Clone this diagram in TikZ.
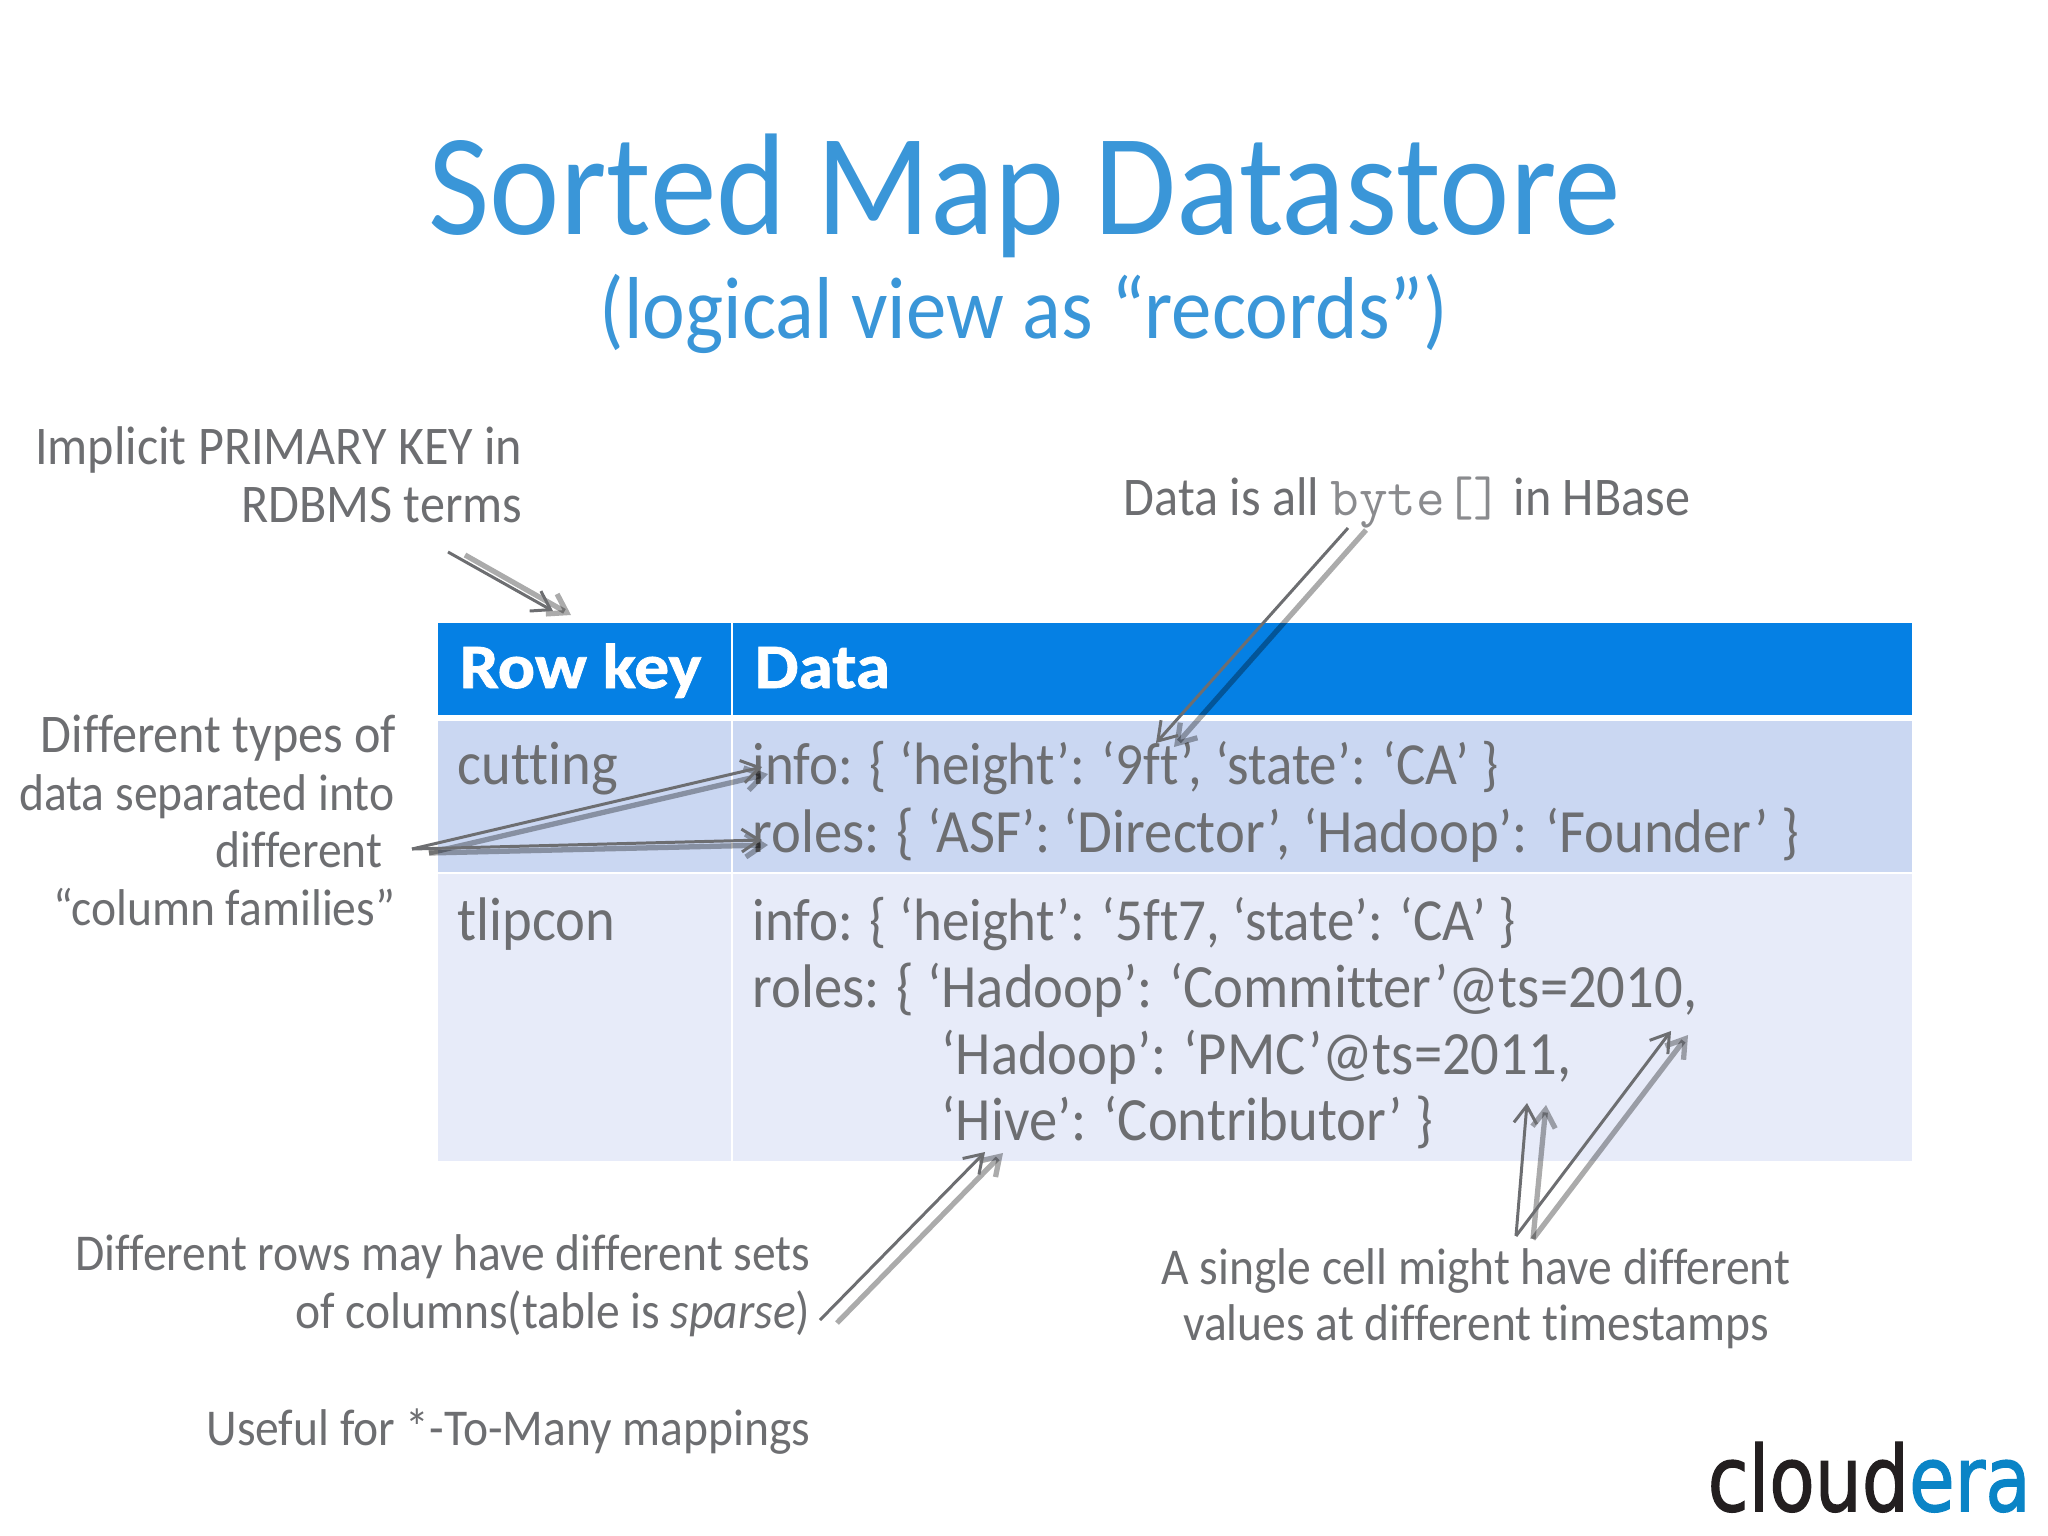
\documentclass[tikz,border=0pt]{standalone}
\usepackage{xcolor}
\usepackage{graphicx}
\usepackage{fontspec}
\setmainfont{Carlito}[FakeStretch=0.92,Ligatures=NoCommon]
\newfontfamily\headfont{Carlito}[FakeStretch=1.1,Ligatures=NoCommon,BoldFeatures={FakeBold=1.2}]
\newfontfamily\logofont{DejaVu Sans}[FakeBold=1.6]
\usetikzlibrary{positioning,arrows.meta}
\definecolor{titleblue}{HTML}{3A96D8}
\definecolor{headblue}{HTML}{0580E4}
\definecolor{cellA}{HTML}{CAD7F2}
\definecolor{cellB}{HTML}{E7EBF9}
\definecolor{inkgray}{HTML}{6D6E71}
\definecolor{logoblue}{HTML}{0A84C6}
\definecolor{logoblack}{HTML}{231F20}

\tikzset{
  headcell/.style={fill=headblue, minimum height=0.92cm, inner sep=0pt, anchor=north west},
  rowcell/.style={inner sep=0pt, anchor=north west},
  headtext/.style={text=white, inner sep=0pt, anchor=base west, font=\headfont\fontsize{18}{20}\selectfont\bfseries},
  celltext/.style={text=inkgray, inner sep=0pt, anchor=base west, align=left, font=\fontsize{17.5}{19}\selectfont},
  infotext/.style={celltext, font=\fontsize{17}{19}\selectfont},
  note/.style={text=inkgray, inner sep=0pt, font=\fontsize{14.7}{16.3}\selectfont},
  widenote/.style={note, font=\fontsize{15.5}{16.3}\selectfont},
  callout/.style={draw=inkgray, line width=0.85pt, -{Straight Barb[length=5pt,width=6.5pt]}},
  ghost/.style={draw=black, opacity=0.33, line width=1.5pt, -{Straight Barb[length=5pt,width=6.5pt]}}
}

\begin{document}
\begin{tikzpicture}[x=0.01cm, y=-0.01cm]
  \useasboundingbox (0,0) rectangle (2048,1536);

  % title
  \node (title) [text=titleblue, inner sep=0pt, anchor=base, font=\fontsize{41.2}{48}\selectfont] at (1025,234) {Sorted Map Datastore};
  \node (subtitle) [text=titleblue, inner sep=0pt, anchor=base, font=\fontsize{25}{32}\selectfont] at (1024,338) {(logical view as “records”)};

  % table
  \node (rowHead) [headcell, minimum width=2.93cm] at (437,622) {};
  \node (dataHead) [headcell, minimum width=11.79cm] at (732,622) {};
  \node (rowCutting) [rowcell, fill=cellA, minimum width=2.93cm, minimum height=1.51cm] at (437,720) {};
  \node (dataCutting) [rowcell, fill=cellA, minimum width=11.79cm, minimum height=1.51cm] at (732,720) {};
  \node (rowTlipcon) [rowcell, fill=cellB, minimum width=2.93cm, minimum height=2.87cm] at (437,873) {};
  \node (dataTlipcon) [rowcell, fill=cellB, minimum width=11.79cm, minimum height=2.87cm] at (732,873) {};

  \node (rowHeadText) [headtext] at (459,688) {Row key};
  \node (dataHeadText) [headtext] at (754,688) {Data};
  \node (cuttingText) [celltext] at (457,784) {cutting};
  \node (tlipconText) [celltext] at (457,940) {tlipcon};
  \node (infoA) [infotext] at (752,784) {info: \{ ‘height’: ‘9ft’, ‘state’: ‘CA’ \}};
  \node (rolesA) [celltext] at (752,852) {roles: \{ ‘ASF’: ‘Director’, ‘Hadoop’: ‘Founder’ \}};
  \node (infoB) [infotext] at (752,940) {info: \{ ‘height’: ‘5ft7, ‘state’: ‘CA’ \}};
  \node (rolesB) [celltext] at (752,1007) {roles: \{ ‘Hadoop’: ‘Committer’@ts=2010,};
  \node (rolesC) [celltext] at (941,1074) {‘Hadoop’: ‘PMC’@ts=2011,};
  \node (rolesD) [celltext] at (941,1140) {‘Hive’: ‘Contributor’ \}};

  % notes
  \node (pkNoteA) [widenote, anchor=base east] at (523,464) {Implicit PRIMARY KEY in};
  \node (pkNoteB) [widenote, anchor=base east] at (523,522) {RDBMS terms};
  \node (famNoteA) [widenote, anchor=base east] at (397,752) {Different types of};
  \node (famNoteB) [note, anchor=base east] at (395,810) {data separated into};
  \node (famNoteC) [note, anchor=base east] at (383,867) {different};
  \node (famNoteD) [note, anchor=base east] at (396,925) {“column families”};
  \node (byteNote) [widenote, anchor=base] at (1407,515) {Data is all {\color{inkgray!80}\ttfamily\fontsize{15.8}{16}\selectfont byte[]} in HBase};
  \node (sparseNoteA) [note, anchor=base east] at (811,1270) {Different rows may have different sets};
  \node (sparseNoteB) [note, anchor=base east] at (811,1328) {of columns(table is \textit{sparse})};
  \node (usefulNote) [note, anchor=base east] at (811,1445) {Useful for *-To-Many mappings};
  \node (cellNoteA) [note, anchor=base] at (1476,1284) {A single cell might have different};
  \node (cellNoteB) [note, anchor=base] at (1476,1340) {values at different timestamps};

  % logo
  \node (logo) [inner sep=0pt, anchor=south west] at (1707,1513) {\resizebox{3.23cm}{0.69cm}{\logofont\textcolor{logoblack}{cloud}\textcolor{logoblue}{era}}};

  % arrow ends
  \coordinate (pkStart) at (448,552);
  \coordinate (pkTip) at (553,611);
  \coordinate (pkGhostStart) at (465,555);
  \coordinate (pkGhostTip) at (571,615);
  \coordinate (byteStart) at (1348,528);
  \coordinate (byteTip) at (1156,743);
  \coordinate (byteGhostStart) at (1366,530);
  \coordinate (byteGhostTip) at (1174,747);
  \coordinate (famStart) at (412,849);
  \coordinate (famTipA) at (762,767);
  \coordinate (famTipB) at (762,840);
  \coordinate (famGhostStart) at (429,853);
  \coordinate (famGhostTipA) at (768,774);
  \coordinate (famGhostTipB) at (768,845);
  \coordinate (sparseStart) at (820,1320);
  \coordinate (sparseTip) at (985,1152);
  \coordinate (sparseGhostStart) at (837,1323);
  \coordinate (sparseGhostTip) at (1003,1153);
  \coordinate (cellStart) at (1516,1236);
  \coordinate (cellTipA) at (1527,1103);
  \coordinate (cellTipB) at (1671,1031);
  \coordinate (cellGhostStart) at (1533,1239);
  \coordinate (cellGhostTipA) at (1546,1105);
  \coordinate (cellGhostTipB) at (1688,1035);

  % callouts
  \draw[ghost] (pkGhostStart) -- (pkGhostTip);
  \draw[ghost] (byteGhostStart) -- (byteGhostTip);
  \draw[ghost] (famGhostStart) -- (famGhostTipA);
  \draw[ghost] (famGhostStart) -- (famGhostTipB);
  \draw[ghost] (sparseGhostStart) -- (sparseGhostTip);
  \draw[ghost] (cellGhostStart) -- (cellGhostTipA);
  \draw[ghost] (cellGhostStart) -- (cellGhostTipB);
  \draw[callout] (pkStart) -- (pkTip);
  \draw[callout] (byteStart) -- (byteTip);
  \draw[callout] (famStart) -- (famTipA);
  \draw[callout] (famStart) -- (famTipB);
  \draw[callout] (sparseStart) -- (sparseTip);
  \draw[callout] (cellStart) -- (cellTipA);
  \draw[callout] (cellStart) -- (cellTipB);
\end{tikzpicture}
\end{document}
